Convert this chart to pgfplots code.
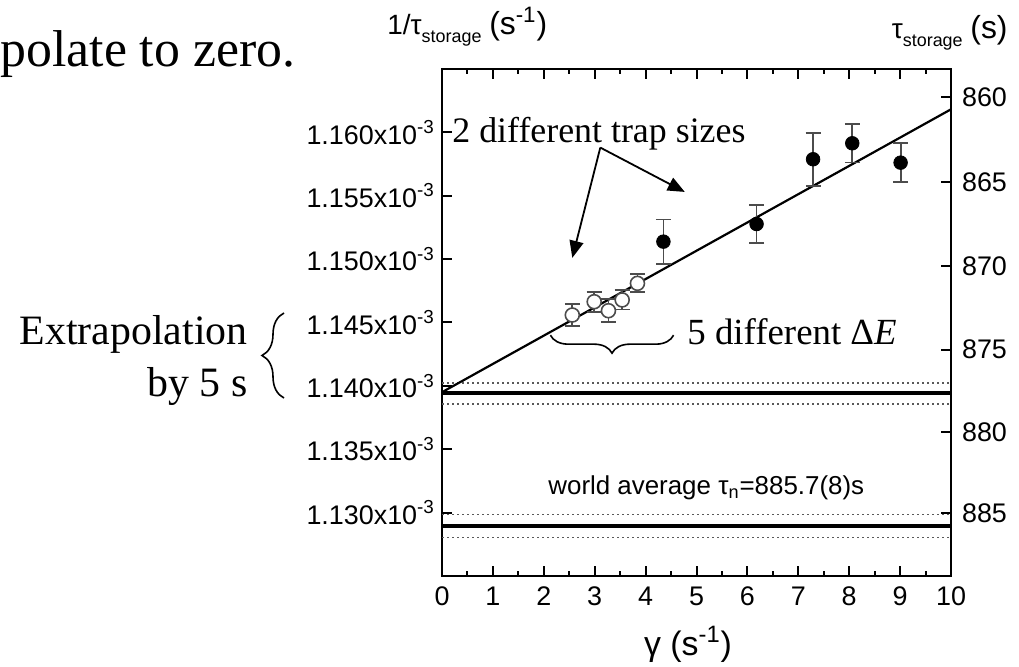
\documentclass[border=0pt]{standalone}
\usepackage{fontspec}
\setmainfont{Liberation Serif}
\setsansfont{Liberation Sans}
\usepackage{pgfplots}
\pgfplotsset{compat=1.18}
\usetikzlibrary{arrows.meta,decorations.pathreplacing}

\pgfplotstableread{
x y e
2.56 1.14559 0.00089
2.99 1.14664 0.00079
3.27 1.14593 0.00092
3.54 1.14678 0.00076
3.84 1.14809 0.00071
}\opendata
\pgfplotstableread{
x y e
4.35 1.15138 0.00175
6.18 1.15277 0.00152
7.29 1.15788 0.00210
8.06 1.15914 0.00151
9.01 1.15761 0.00155
}\filleddata

\begin{document}
\begin{tikzpicture}
\useasboundingbox (0,0) rectangle (509.5bp,333.5bp);
\pgfplotsset{
  common/.style={
    at={(221bp,45.5bp)}, anchor=south west,
    width=254.5bp, height=253.5bp, scale only axis,
    xmin=0, xmax=10, ymin=1.125, ymax=1.165,
    tick align=inside,
    major tick length=5bp, minor tick length=2.5bp,
    axis line style={line width=1bp},
    every tick/.style={line width=1bp, black},
    tick label style={font=\sffamily\fontsize{13.5}{16}\selectfont},
  }
}
\begin{axis}[common,
  xtick={0,1,2,3,4,5,6,7,8,9,10},
  xticklabels={0,1,2,3,4,5,6,7,8,9,10},
  minor xtick={0.5,1.5,2.5,3.5,4.5,5.5,6.5,7.5,8.5,9.5},
  xticklabel style={yshift=-2bp},
  ytick={1.130,1.135,1.140,1.145,1.150,1.155,1.160},
  yticklabels={1.130x10\textsuperscript{-3},1.135x10\textsuperscript{-3},1.140x10\textsuperscript{-3},1.145x10\textsuperscript{-3},1.150x10\textsuperscript{-3},1.155x10\textsuperscript{-3},1.160x10\textsuperscript{-3}},
  ytick pos=left,
]
% extrapolated value and band
\addplot[black!65, line width=0.7bp, dash pattern=on 1bp off 1.5bp] coordinates {(0,1.14023) (10,1.14023)};
\addplot[black!65, line width=0.7bp, dash pattern=on 1bp off 1.5bp] coordinates {(0,1.13857) (10,1.13857)};
\addplot[black, line width=1.6bp] coordinates {(0,1.13944) (10,1.13944)};
% world average
\addplot[black!65, line width=0.7bp, dash pattern=on 1bp off 1.5bp] coordinates {(0,1.12987) (10,1.12987)};
\addplot[black!65, line width=0.7bp, dash pattern=on 1bp off 1.5bp] coordinates {(0,1.12802) (10,1.12802)};
\addplot[black, line width=1.6bp] coordinates {(0,1.12895) (10,1.12895)};
% fit
\addplot[black, line width=1.1bp] coordinates {(0,1.13950) (10,1.16182)};
% data
\addplot[only marks, mark=*, mark size=3.5bp, mark options={draw=black!70, fill=white, line width=0.8bp},
  error bars/.cd, y dir=both, y explicit,
  error bar style={line width=0.9bp, black!70},
  error mark options={rotate=90, black!70, line width=0.9bp, mark size=3.75bp}]
  table[x=x, y=y, y error=e] {\opendata};
\addplot[only marks, mark=*, mark size=3.4bp, mark options={draw=black, fill=black},
  error bars/.cd, y dir=both, y explicit,
  error bar style={line width=0.9bp, black!70},
  error mark options={rotate=90, black!70, line width=0.9bp, mark size=3.75bp}]
  table[x=x, y=y, y error=e] {\filleddata};
% annotations
\draw[decorate, decoration={brace, amplitude=9bp}, line width=0.8bp] (axis cs:4.55,1.1440) -- (axis cs:2.13,1.1440);
\draw[line width=0.9bp, -{Triangle[length=8.5bp,width=7bp]}] (axis cs:3.11,1.1588) -- (axis cs:2.56,1.1501);
\draw[line width=0.9bp, -{Triangle[length=8.5bp,width=7bp]}] (axis cs:3.11,1.1588) -- (axis cs:4.77,1.1553);
\end{axis}
\begin{axis}[common,
  axis x line=none, axis y line*=right,
  ytick={1.162791,1.156069,1.149425,1.142857,1.136364,1.129944},
  yticklabels={860,865,870,875,880,885},
  yticklabel style={xshift=2bp},
]
\addplot[draw=none] coordinates {(5,1.14)};
\end{axis}
% texts
\node[anchor=base west, inner sep=0, font=\fontsize{26}{30}\selectfont] at (0bp,300bp) {polate to zero.};
\node[anchor=base east, inner sep=0, font=\fontsize{21}{25}\selectfont] at (124bp,161bp) {Extrapolation};
\node[anchor=base east, inner sep=0, font=\fontsize{21}{25}\selectfont] at (124bp,135bp) {by 5 s};
\draw[decorate, decoration={brace, amplitude=11bp}, line width=0.8bp] (142bp,134.5bp) -- (142bp,177bp);
\node[anchor=base west, inner sep=0, font=\fontsize{18}{22}\selectfont] at (226bp,262bp) {2 different trap sizes};
\node[anchor=base west, inner sep=0, font=\fontsize{18.5}{22}\selectfont] at (343.5bp,161bp) {5 different Δ\textit{E}};
\node[anchor=base west, inner sep=0, font=\sffamily\fontsize{13}{15}\selectfont] at (274bp,86bp) {world average τ\textsubscript{n}=885.7(8)s};
\node[anchor=base west, inner sep=0, font=\sffamily\fontsize{14}{16}\selectfont] at (193.5bp,316bp) {1/τ\raisebox{-4bp}{\fontsize{9}{10}\selectfont storage} {\fontsize{16}{18}\selectfont(s\textsuperscript{-1})}};
\node[anchor=base east, inner sep=0, font=\sffamily\fontsize{14}{16}\selectfont] at (504bp,314bp) {τ\raisebox{-4bp}{\fontsize{9}{10}\selectfont storage} {\fontsize{16}{18}\selectfont(s)}};
\node[anchor=base, inner sep=0, font=\sffamily\fontsize{17}{20}\selectfont] at (344bp,6bp) {γ (s\textsuperscript{-1})};
\end{tikzpicture}
\end{document}
